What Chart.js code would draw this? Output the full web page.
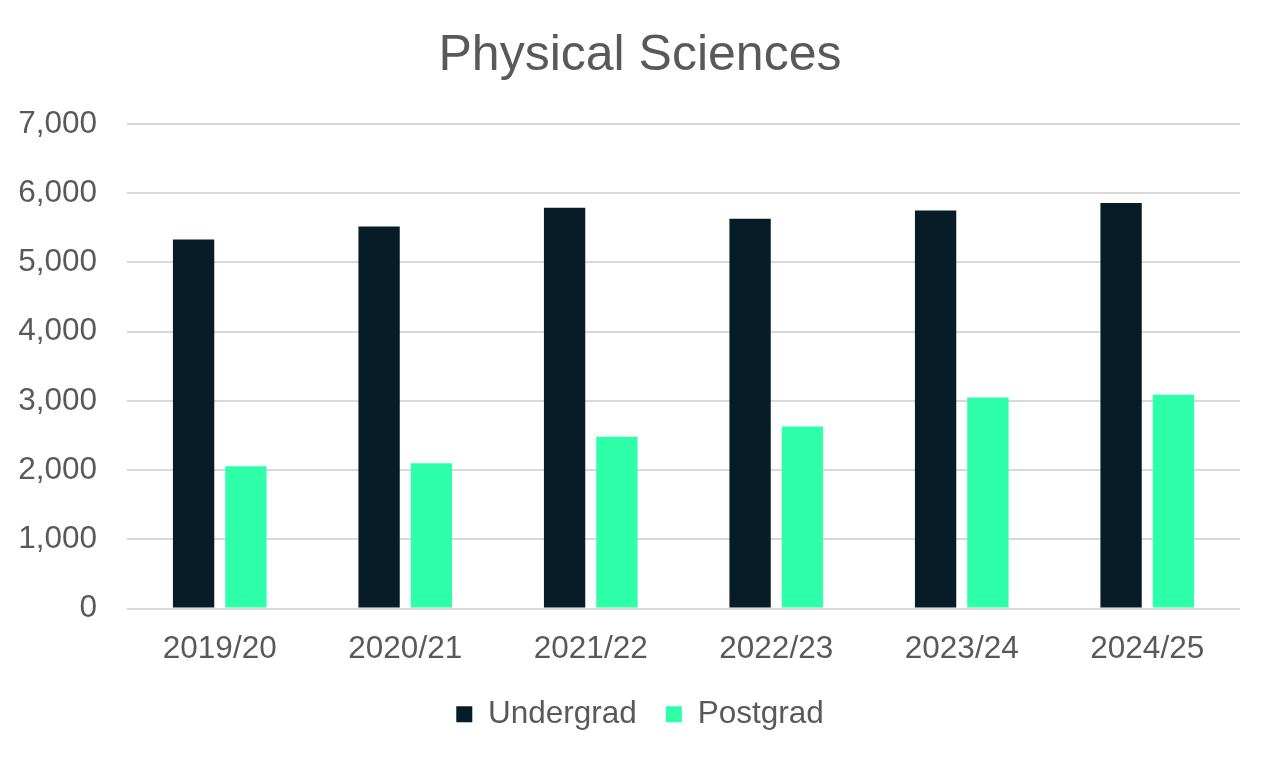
<!DOCTYPE html>
<html>
<head>
<meta charset="utf-8">
<title>Physical Sciences</title>
<script src="https://cdn.jsdelivr.net/npm/chart.js@4.4.1/dist/chart.umd.min.js"></script>
<style>
  html, body { margin: 0; padding: 0; background: #ffffff; }
  #wrap { width: 1276px; height: 762px; position: relative; }
</style>
</head>
<body>
<div id="wrap"><canvas id="salesChart"></canvas></div>
<script>
// chart values
const years = ['2019/20', '2020/21', '2021/22', '2022/23', '2023/24', '2024/25'];
const undergrad = [5330, 5520, 5790, 5630, 5750, 5860];
const postgrad = [2055, 2100, 2480, 2630, 3050, 3090];
const yTicks = [0, 1000, 2000, 3000, 4000, 5000, 6000, 7000];

const textColor = '#595959';
const fontFamily = "'Liberation Sans', Arial, sans-serif";

const chartData = {
  labels: years,
  datasets: [
    {
      label: 'Undergrad',
      data: undergrad,
      backgroundColor: '#071c26',
      borderWidth: 0,
      categoryPercentage: 0.564,
      barPercentage: 0.79,
    },
    {
      label: 'Postgrad',
      data: postgrad,
      backgroundColor: '#2effa9',
      borderWidth: 0,
      categoryPercentage: 0.564,
      barPercentage: 0.79,
    },
  ],
};

const chartConfig = {
  type: 'bar',
  data: chartData,
  options: {
    responsive: true,
    maintainAspectRatio: false,
    animation: false,
    layout: {
      padding: { top: 0, left: 19, right: 15, bottom: 22 },
    },
    plugins: {
      title: {
        display: true,
        text: 'Physical Sciences',
        color: textColor,
        font: { family: fontFamily, size: 50, weight: 'normal' },
        padding: { top: 26, bottom: 38 },
      },
      legend: {
        position: 'bottom',
        labels: {
          color: textColor,
          font: { family: fontFamily, size: 31.5 },
          boxWidth: 16,
          boxHeight: 16,
          padding: 29,
        },
      },
      tooltip: { enabled: false },
    },
    scales: {
      x: {
        grid: { display: false, drawTicks: false },
        border: { display: false },
        ticks: {
          color: textColor,
          font: { family: fontFamily, size: 31.5 },
          padding: 22,
          maxRotation: 0,
        },
        afterFit: (scale) => {
          scale.height = 61;
        },
      },
      y: {
        min: 0,
        max: 7000,
        afterBuildTicks: (scale) => {
          scale.ticks = yTicks.map((v) => ({ value: v }));
        },
        grid: { color: '#d9d9d9', lineWidth: 2, drawTicks: false },
        border: { display: false },
        ticks: {
          color: textColor,
          font: { family: fontFamily, size: 31.5 },
          padding: 30,
        },
        afterFit: (scale) => {
          scale.width = 108;
        },
      },
      // empty axis on the right so the title and legend sit in the middle
      yRight: {
        position: 'right',
        display: true,
        grid: { display: false },
        border: { display: false },
        ticks: { display: false },
        afterFit: (scale) => {
          scale.width = 21;
        },
      },
    },
  },
};

new Chart(document.getElementById('salesChart'), chartConfig);
</script>
</body>
</html>
